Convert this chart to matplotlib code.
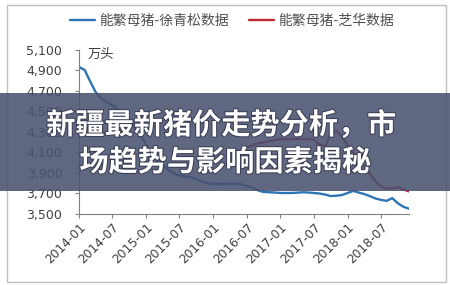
import numpy as np
import pandas as pd
import matplotlib
matplotlib.use("Agg")
import matplotlib.pyplot as plt
import matplotlib.dates as mdates
from matplotlib.patches import Rectangle
from matplotlib import patheffects

plt.rcParams['font.family'] = ['Noto Sans CJK SC', 'DejaVu Sans']

# monthly sow inventory, 10k head
xu_months = pd.date_range("2014-01-01", periods=60, freq="MS")
xu_values = [4935, 4905, 4800, 4690, 4630, 4590, 4560, 4520, 4470, 4410,
             4340, 4270, 4180, 4100, 4030, 3980, 3930, 3895, 3875, 3865,
             3860, 3840, 3815, 3800, 3795, 3790, 3795, 3795, 3795, 3790,
             3775, 3760, 3730, 3715, 3712, 3710, 3705, 3705, 3705, 3708,
             3712, 3710, 3705, 3700, 3690, 3675, 3678, 3685, 3705, 3725,
             3710, 3695, 3675, 3652, 3638, 3628, 3655, 3605, 3570, 3552]

zh_months = pd.date_range("2016-07-01", periods=30, freq="MS")
zh_values = [4150, 4170, 4190, 4200, 4210, 4220, 4230, 4230, 4230, 4232,
             4232, 4230, 4225, 4180, 4160, 4285, 4315, 4255, 4170, 4100,
             4030, 3965, 3895, 3820, 3770, 3750, 3750, 3760, 3740, 3720]

series_names = ["能繁母猪-徐青松数据", "能繁母猪-芝华数据"]
y_ticks = [3500, 3700, 3900, 4100, 4300, 4500, 4700, 4900, 5100]
unit_label = "万头"
headline = ["新疆最新猪价走势分析，市", "场趋势与影响因素揭秘"]

W, H = 450, 285
fig = plt.figure(figsize=(W / 100, H / 100), dpi=100)
fig.patch.set_facecolor("white")

# outer chart frame
fig.add_artist(Rectangle((7 / W, 1 - 282 / H), 439 / W, 277 / H,
                         transform=fig.transFigure, fill=False,
                         ec="#bfbfbf", lw=1.0))

ax = fig.add_axes([79 / W, 1 - 214 / H, 330 / W, 164 / H])
l1, = ax.plot(xu_months, xu_values, color="#2e75b6", lw=1.7,
              solid_capstyle="round")
l2, = ax.plot(zh_months, zh_values, color="#c0282e", lw=1.7,
              solid_capstyle="round")

ax.set_xlim(xu_months[0], xu_months[-1])
ax.set_ylim(3500, 5100)
ax.set_yticks(y_ticks)
ax.set_yticklabels([f"{v:,}" for v in y_ticks], family="DejaVu Sans",
                   fontsize=9, color="#404040")
ax.xaxis.set_major_locator(mdates.MonthLocator(bymonth=[1, 7]))
ax.xaxis.set_major_formatter(mdates.DateFormatter("%Y-%m"))
for lab in ax.get_xticklabels():
    lab.set_rotation(45)
    lab.set_ha("right")
    lab.set_rotation_mode("anchor")
    lab.set_family("DejaVu Sans")
    lab.set_fontsize(8.8)
    lab.set_color("#404040")
ax.tick_params(axis="y", length=3, width=0.8, color="#808080", pad=9)
ax.tick_params(axis="x", length=3, width=0.8, color="#808080", pad=2)
for side in ("top", "right"):
    ax.spines[side].set_visible(False)
for side in ("left", "bottom"):
    ax.spines[side].set_color("#808080")
    ax.spines[side].set_linewidth(0.8)

ax.text(0.027, 0.976, unit_label, transform=ax.transAxes, fontsize=9.5,
        color="#404040", va="center", ha="left")

fig.legend([l1, l2], series_names, loc="center",
           bbox_to_anchor=(232 / W, 1 - 21 / H), ncol=2, frameon=False,
           fontsize=10, labelcolor="#505050", handlelength=1.75,
           handletextpad=0.3, columnspacing=1.5)

# translucent headline band across the middle
fig.add_artist(Rectangle((0, 1 - 191 / H), 1, 98 / H,
                         transform=fig.transFigure, color="#4a5270",
                         alpha=0.88, lw=0, zorder=10))
shadow = [patheffects.withStroke(linewidth=1.5, foreground="#3a3f55")]
fig.text(221 / W, 1 - 125 / H, headline[0], color="white", fontsize=21,
         fontweight="bold", ha="center", va="center", zorder=11,
         path_effects=shadow)
fig.text(225 / W, 1 - 162 / H, headline[1], color="white", fontsize=21,
         fontweight="bold", ha="center", va="center", zorder=11,
         path_effects=shadow)

fig.savefig("out.png", dpi=100)
